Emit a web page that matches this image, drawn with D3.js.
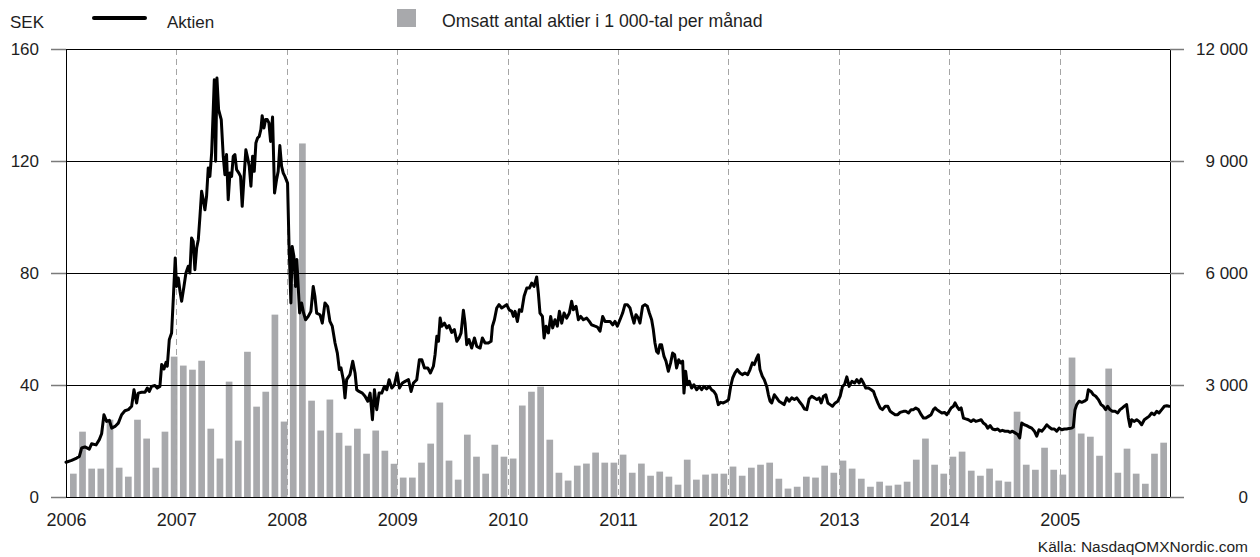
<!DOCTYPE html>
<html>
<head>
<meta charset="utf-8">
<script src="https://cdn.jsdelivr.net/npm/d3@7"></script>
<style>
  html, body { margin: 0; padding: 0; background: #fff; }
  svg { display: block; font-family: "Liberation Sans", Arial, sans-serif; }
</style>
</head>
<body>
<svg id="chart" width="1260" height="557"></svg>
<script>
// Year labels on the time axis (as printed in the annual report)
const yearLabels = ["2006", "2007", "2008", "2009", "2010", "2011", "2012", "2013", "2014", "2005"];
const priceTicks = [0, 40, 80, 120, 160];
const volumeTicks = [0, 3000, 6000, 9000, 12000];

// Traded shares per month, thousands, Jan 2006 – Dec 2015
const volumeK = [
  625, 1750, 760, 760, 2070, 785, 545, 2070, 1565, 785, 1750, 3760,
  3520, 3410, 3650, 1830, 1030, 3090, 1510, 3890, 2420, 2820, 4885, 2020,
  5700, 9470, 2580, 1780, 2610, 1720, 1375, 1830, 1160, 1780, 1240, 890,
  520, 520, 920, 1430, 2530, 975, 465, 1670, 1080, 625, 1400, 1080,
  1030, 2450, 2820, 2955, 1535, 650, 440, 840, 895, 1190, 920, 920,
  1135, 650, 895, 570, 680, 545, 330, 1000, 465, 600, 625, 625,
  815, 570, 785, 865, 920, 490, 225, 275, 545, 520, 840, 650,
  975, 760, 490, 275, 410, 305, 330, 410, 1000, 1565, 865, 625,
  1080, 1215, 705, 570, 760, 440, 410, 2285, 865, 730, 1320, 730,
  600, 3735, 1700, 1615, 1105, 3440, 650, 1295, 625, 355, 1160, 1455
];

// Share price, SEK: [decimal year, close]
const price = [
  [2006.000, 12.4], [2006.051, 13.1], [2006.097, 13.9], [2006.121, 14.5], [2006.142, 17.5],
  [2006.172, 17.9], [2006.211, 17.1], [2006.232, 19.0], [2006.272, 18.6], [2006.302, 20.5],
  [2006.323, 22.6], [2006.344, 29.4], [2006.368, 27.0], [2006.393, 27.4], [2006.414, 24.6],
  [2006.444, 25.2], [2006.474, 26.4], [2006.504, 29.4], [2006.534, 30.8], [2006.565, 31.2],
  [2006.595, 32.4], [2006.616, 38.3], [2006.640, 33.6], [2006.655, 37.1], [2006.685, 37.4],
  [2006.716, 37.4], [2006.737, 38.9], [2006.755, 37.7], [2006.776, 39.5], [2006.806, 39.8],
  [2006.827, 38.9], [2006.851, 39.5], [2006.867, 47.3], [2006.888, 45.7], [2006.906, 48.1],
  [2006.918, 46.7], [2006.936, 56.2], [2006.957, 58.6], [2006.972, 70.5], [2006.990, 85.4],
  [2007.002, 75.2], [2007.018, 78.2], [2007.033, 73.5], [2007.048, 69.9], [2007.069, 75.2],
  [2007.087, 80.0], [2007.108, 82.4], [2007.123, 80.0], [2007.138, 92.5], [2007.153, 91.3],
  [2007.168, 81.2], [2007.184, 88.9], [2007.199, 91.9], [2007.214, 100.2], [2007.229, 109.2],
  [2007.244, 106.2], [2007.259, 102.6], [2007.274, 107.4], [2007.289, 117.5], [2007.304, 114.5],
  [2007.320, 122.9], [2007.335, 138.9], [2007.344, 149.0], [2007.356, 119.9], [2007.368, 149.6],
  [2007.383, 138.3], [2007.407, 134.8], [2007.425, 121.7], [2007.440, 115.1], [2007.455, 122.3],
  [2007.470, 106.2], [2007.486, 115.7], [2007.501, 114.5], [2007.516, 121.7], [2007.531, 122.3],
  [2007.546, 116.9], [2007.567, 115.7], [2007.582, 114.5], [2007.597, 103.8], [2007.612, 113.3],
  [2007.630, 124.0], [2007.646, 121.1], [2007.661, 118.1], [2007.676, 111.0], [2007.691, 121.7],
  [2007.706, 116.3], [2007.721, 126.4], [2007.736, 128.2], [2007.751, 128.8], [2007.766, 131.2],
  [2007.778, 136.2], [2007.794, 131.8], [2007.809, 134.8], [2007.824, 134.8], [2007.839, 133.6],
  [2007.854, 127.0], [2007.872, 135.7], [2007.890, 108.6], [2007.908, 113.3], [2007.923, 116.3],
  [2007.938, 125.5], [2007.954, 118.1], [2007.969, 115.7], [2007.984, 114.5], [2008.008, 112.1],
  [2008.020, 91.9], [2008.038, 69.3], [2008.050, 89.5], [2008.065, 86.0], [2008.080, 75.2],
  [2008.092, 84.8], [2008.104, 75.2], [2008.117, 65.7], [2008.135, 69.3], [2008.153, 65.7],
  [2008.171, 63.3], [2008.195, 64.5], [2008.219, 66.3], [2008.240, 75.2], [2008.255, 71.7],
  [2008.271, 65.7], [2008.301, 65.1], [2008.322, 62.1], [2008.346, 69.3], [2008.370, 68.1],
  [2008.391, 62.7], [2008.412, 61.0], [2008.437, 55.0], [2008.458, 51.4], [2008.476, 45.5],
  [2008.491, 46.1], [2008.512, 41.9], [2008.527, 35.4], [2008.542, 41.9], [2008.572, 43.7],
  [2008.597, 48.5], [2008.618, 44.3], [2008.633, 38.3], [2008.654, 37.7], [2008.684, 37.1],
  [2008.708, 36.0], [2008.733, 34.2], [2008.754, 37.1], [2008.775, 27.6], [2008.793, 38.3],
  [2008.814, 31.2], [2008.835, 37.1], [2008.859, 37.1], [2008.883, 39.5], [2008.905, 38.3],
  [2008.926, 41.9], [2008.950, 38.9], [2008.974, 40.1], [2008.998, 44.3], [2009.019, 38.9],
  [2009.046, 40.7], [2009.071, 41.3], [2009.101, 41.9], [2009.125, 37.7], [2009.146, 40.7],
  [2009.176, 41.9], [2009.200, 49.0], [2009.222, 49.0], [2009.246, 46.1], [2009.276, 46.1],
  [2009.300, 44.3], [2009.327, 46.7], [2009.342, 50.8], [2009.358, 57.4], [2009.373, 55.6],
  [2009.388, 63.9], [2009.403, 61.0], [2009.427, 62.1], [2009.448, 60.4], [2009.469, 61.2],
  [2009.493, 58.8], [2009.517, 59.8], [2009.539, 55.6], [2009.560, 56.8], [2009.578, 58.6],
  [2009.599, 66.7], [2009.614, 62.1], [2009.629, 54.4], [2009.650, 56.2], [2009.674, 53.2],
  [2009.699, 56.8], [2009.720, 53.8], [2009.750, 53.2], [2009.771, 56.8], [2009.795, 55.0],
  [2009.825, 55.0], [2009.850, 55.6], [2009.862, 61.0], [2009.880, 63.3], [2009.901, 67.5],
  [2009.922, 68.7], [2009.946, 67.5], [2009.970, 68.1], [2009.991, 68.7], [2010.013, 66.9],
  [2010.037, 66.3], [2010.052, 64.5], [2010.067, 66.3], [2010.088, 62.7], [2010.106, 66.9],
  [2010.127, 66.3], [2010.149, 71.7], [2010.173, 74.6], [2010.197, 74.6], [2010.218, 76.4],
  [2010.239, 75.2], [2010.263, 78.6], [2010.278, 72.9], [2010.293, 65.7], [2010.315, 64.5],
  [2010.330, 56.8], [2010.348, 61.0], [2010.369, 58.6], [2010.390, 64.5], [2010.408, 60.4],
  [2010.429, 63.3], [2010.450, 61.0], [2010.469, 66.3], [2010.490, 62.1], [2010.511, 65.7],
  [2010.535, 63.9], [2010.559, 65.7], [2010.580, 69.9], [2010.595, 66.9], [2010.620, 68.1],
  [2010.641, 63.3], [2010.662, 64.5], [2010.686, 63.3], [2010.716, 63.9], [2010.740, 62.7],
  [2010.761, 61.5], [2010.792, 61.0], [2010.813, 60.7], [2010.837, 59.2], [2010.861, 64.5],
  [2010.882, 62.7], [2010.903, 62.7], [2010.928, 62.7], [2010.952, 61.5], [2010.973, 62.7],
  [2010.994, 61.0], [2011.018, 63.3], [2011.042, 65.7], [2011.063, 68.7], [2011.085, 68.7],
  [2011.109, 67.5], [2011.124, 65.1], [2011.145, 62.1], [2011.163, 65.1], [2011.184, 63.9],
  [2011.199, 62.1], [2011.223, 68.1], [2011.245, 68.7], [2011.266, 68.1], [2011.284, 65.7],
  [2011.305, 63.3], [2011.320, 59.8], [2011.335, 55.0], [2011.350, 52.0], [2011.365, 51.4],
  [2011.380, 54.4], [2011.395, 54.4], [2011.417, 50.2], [2011.435, 48.5], [2011.456, 44.9],
  [2011.477, 47.9], [2011.495, 51.4], [2011.513, 50.8], [2011.531, 46.1], [2011.550, 49.0],
  [2011.568, 47.9], [2011.586, 48.5], [2011.598, 37.1], [2011.613, 44.9], [2011.628, 40.1],
  [2011.646, 41.3], [2011.667, 38.9], [2011.688, 40.1], [2011.713, 38.3], [2011.737, 39.5],
  [2011.758, 38.3], [2011.779, 39.5], [2011.803, 38.6], [2011.827, 39.5], [2011.848, 38.3],
  [2011.869, 37.7], [2011.888, 36.5], [2011.909, 33.0], [2011.930, 33.8], [2011.954, 33.6],
  [2011.984, 34.2], [2012.002, 34.8], [2012.021, 39.5], [2012.039, 42.5], [2012.060, 44.3],
  [2012.081, 45.5], [2012.105, 44.3], [2012.126, 43.7], [2012.150, 44.3], [2012.175, 43.7],
  [2012.196, 45.5], [2012.217, 47.9], [2012.235, 47.3], [2012.256, 49.6], [2012.271, 50.8],
  [2012.286, 45.5], [2012.307, 43.1], [2012.325, 41.9], [2012.347, 39.5], [2012.362, 36.5],
  [2012.377, 34.2], [2012.392, 33.6], [2012.416, 36.5], [2012.437, 35.4], [2012.458, 34.2],
  [2012.483, 33.6], [2012.504, 33.0], [2012.528, 35.4], [2012.549, 34.2], [2012.573, 35.4],
  [2012.597, 34.8], [2012.618, 35.4], [2012.640, 34.2], [2012.664, 33.0], [2012.688, 31.4],
  [2012.709, 31.2], [2012.730, 35.0], [2012.754, 36.0], [2012.778, 35.4], [2012.800, 34.8],
  [2012.821, 35.4], [2012.839, 33.6], [2012.860, 36.0], [2012.881, 36.5], [2012.899, 33.6],
  [2012.920, 33.0], [2012.941, 32.4], [2012.966, 33.6], [2012.990, 34.2], [2013.011, 36.0],
  [2013.032, 39.5], [2013.050, 40.1], [2013.071, 42.9], [2013.092, 39.5], [2013.117, 41.3],
  [2013.141, 40.7], [2013.162, 41.9], [2013.183, 40.7], [2013.201, 42.1], [2013.222, 40.7],
  [2013.243, 38.9], [2013.267, 38.9], [2013.292, 38.3], [2013.313, 37.7], [2013.328, 36.0],
  [2013.352, 33.6], [2013.373, 31.8], [2013.394, 31.2], [2013.419, 32.4], [2013.443, 32.4],
  [2013.464, 30.6], [2013.485, 30.0], [2013.509, 29.4], [2013.533, 29.4], [2013.554, 30.2],
  [2013.585, 30.6], [2013.606, 30.6], [2013.630, 30.0], [2013.654, 31.2], [2013.675, 31.2],
  [2013.696, 31.8], [2013.720, 31.2], [2013.745, 29.4], [2013.766, 28.2], [2013.787, 28.2],
  [2013.811, 28.8], [2013.835, 29.4], [2013.856, 31.2], [2013.871, 31.8], [2013.887, 31.2],
  [2013.908, 30.6], [2013.932, 30.0], [2013.956, 30.2], [2013.977, 29.4], [2013.998, 30.6],
  [2014.016, 31.8], [2014.037, 32.4], [2014.052, 33.6], [2014.068, 32.4], [2014.089, 31.2],
  [2014.107, 31.8], [2014.128, 28.2], [2014.149, 27.9], [2014.173, 27.6], [2014.197, 27.0],
  [2014.219, 27.6], [2014.240, 27.0], [2014.264, 27.3], [2014.288, 27.6], [2014.309, 26.4],
  [2014.330, 25.8], [2014.348, 24.6], [2014.370, 25.5], [2014.391, 24.3], [2014.415, 24.0],
  [2014.439, 24.3], [2014.460, 23.5], [2014.481, 23.8], [2014.505, 23.5], [2014.530, 23.5],
  [2014.551, 23.1], [2014.572, 23.5], [2014.596, 22.9], [2014.620, 22.3], [2014.638, 21.1],
  [2014.656, 26.4], [2014.680, 25.8], [2014.702, 25.5], [2014.723, 25.0], [2014.747, 24.6],
  [2014.771, 23.5], [2014.792, 21.7], [2014.813, 24.0], [2014.838, 23.5], [2014.862, 24.6],
  [2014.883, 25.8], [2014.904, 25.0], [2014.928, 24.3], [2014.952, 24.3], [2014.973, 23.5],
  [2014.995, 24.6], [2015.019, 24.0], [2015.043, 24.3], [2015.064, 24.3], [2015.085, 24.5],
  [2015.109, 24.6], [2015.124, 25.0], [2015.139, 31.2], [2015.155, 33.0], [2015.176, 34.2],
  [2015.200, 33.8], [2015.224, 34.2], [2015.245, 34.8], [2015.260, 38.3], [2015.284, 37.7],
  [2015.306, 36.5], [2015.327, 36.0], [2015.351, 34.8], [2015.375, 33.0], [2015.396, 32.4],
  [2015.417, 31.2], [2015.435, 32.4], [2015.456, 31.2], [2015.478, 30.6], [2015.502, 30.6],
  [2015.526, 30.0], [2015.547, 31.2], [2015.568, 31.8], [2015.592, 32.6], [2015.607, 33.0],
  [2015.623, 28.2], [2015.638, 25.2], [2015.653, 27.6], [2015.677, 27.0], [2015.698, 27.6],
  [2015.719, 27.0], [2015.743, 25.8], [2015.767, 27.6], [2015.789, 28.2], [2015.810, 28.8],
  [2015.834, 30.0], [2015.858, 29.4], [2015.879, 30.6], [2015.900, 30.0], [2015.925, 31.2],
  [2015.949, 32.4], [2015.970, 32.6], [2015.991, 32.4]
];

// ---- layout ----
const plot = { left: 66, right: 1170, top: 49, bottom: 497 };
const textColor = "#1e1e1e";
const barColor = "#a8a9ac";
const fontSize = 17;

const svg = d3.select("#chart");

const fromDecimalYear = v => {
  const y0 = Math.floor(v);
  const a = new Date(y0, 0, 1), b = new Date(y0 + 1, 0, 1);
  return new Date(+a + (v - y0) * (b - a));
};

const x = d3.scaleTime()
  .domain([new Date(2006, 0, 1), new Date(2016, 0, 1)])
  .range([plot.left, plot.right]);

const yPrice = d3.scaleLinear().domain([0, 160]).range([plot.bottom, plot.top]);
const yVolume = d3.scaleLinear().domain([0, 12000]).range([plot.bottom, plot.top]);

const months = d3.timeMonth.range(new Date(2006, 0, 1), new Date(2016, 0, 1));
const xMonth = d3.scaleBand()
  .domain(months.map((d, i) => i))
  .range([70, 1167])
  .paddingInner(0.27)
  .paddingOuter(0);

const years = d3.timeYear.range(new Date(2006, 0, 1), new Date(2016, 0, 1));

// ---- volume bars ----
svg.append("g")
  .selectAll("rect")
  .data(volumeK)
  .join("rect")
  .attr("x", (d, i) => xMonth(i))
  .attr("width", xMonth.bandwidth())
  .attr("y", d => yVolume(d))
  .attr("height", d => yVolume(0) - yVolume(d))
  .attr("fill", barColor);

// ---- dashed year separators ----
svg.append("g")
  .selectAll("line")
  .data(years.slice(1))
  .join("line")
  .attr("x1", d => Math.round(x(d)) + 0.5).attr("x2", d => Math.round(x(d)) + 0.5)
  .attr("y1", plot.top).attr("y2", plot.bottom)
  .attr("stroke", "#a5a5a5")
  .attr("stroke-width", 1)
  .attr("stroke-dasharray", "6,4");

// ---- horizontal grid + frame ----
svg.append("g")
  .attr("shape-rendering", "crispEdges")
  .selectAll("line")
  .data(priceTicks)
  .join("line")
  .attr("x1", plot.left).attr("x2", plot.right)
  .attr("y1", d => yPrice(d)).attr("y2", d => yPrice(d))
  .attr("stroke", "#000")
  .attr("stroke-width", 1);

[plot.left, plot.right].forEach(px => {
  svg.append("line")
    .attr("shape-rendering", "crispEdges")
    .attr("x1", px).attr("x2", px)
    .attr("y1", yPrice(160)).attr("y2", yPrice(0))
    .attr("stroke", "#000")
    .attr("stroke-width", 1);
});

// ---- left axis (SEK) ----
const axisL = svg.append("g")
  .attr("transform", `translate(${plot.left},0)`)
  .call(d3.axisLeft(yPrice).tickValues(priceTicks).tickSize(15).tickPadding(12));
axisL.select(".domain").remove();
axisL.selectAll(".tick line").attr("stroke", "#7a7a7a").attr("stroke-width", 1.5);
axisL.selectAll(".tick text")
  .attr("fill", textColor)
  .style("font-size", fontSize + "px")
  .style("font-family", "Liberation Sans, Arial, sans-serif");

// ---- right axis (volume) ----
const fmtVol = v => d3.format(",")(v).replace(/,/g, "\u00a0");
const axisR = svg.append("g")
  .attr("transform", `translate(${plot.right},0)`)
  .call(d3.axisRight(yVolume).tickValues(volumeTicks).tickSize(14).tickFormat(fmtVol));
axisR.select(".domain").remove();
axisR.selectAll(".tick line").attr("stroke", "#7a7a7a").attr("stroke-width", 1.5);
axisR.selectAll(".tick text")
  .attr("x", 1248 - plot.right)
  .attr("text-anchor", "end")
  .attr("fill", textColor)
  .style("font-size", fontSize + "px")
  .style("font-family", "Liberation Sans, Arial, sans-serif");

// ---- bottom axis (years) ----
const axisB = svg.append("g")
  .attr("transform", `translate(0,${plot.bottom})`)
  .call(d3.axisBottom(x).tickValues(years).tickSize(0).tickPadding(16)
    .tickFormat((d, i) => yearLabels[i]));
axisB.select(".domain").remove();
axisB.selectAll(".tick text")
  .attr("fill", textColor)
  .style("font-size", "18px")
  .style("font-family", "Liberation Sans, Arial, sans-serif");

// ---- share price line ----
const line = d3.line()
  .x(d => x(fromDecimalYear(d[0])))
  .y(d => yPrice(d[1]))
  .curve(d3.curveLinear);

svg.append("path")
  .datum(price)
  .attr("d", line)
  .attr("fill", "none")
  .attr("stroke", "#000")
  .attr("stroke-width", 3)
  .attr("stroke-linejoin", "round")
  .attr("stroke-linecap", "round");

// ---- header: unit + legend ----
const header = svg.append("g")
  .attr("fill", textColor)
  .style("font-size", fontSize + "px");

header.append("text").attr("x", 10).attr("y", 28).text("SEK");

header.append("line")
  .attr("x1", 94).attr("x2", 145).attr("y1", 18).attr("y2", 18)
  .attr("stroke", "#000").attr("stroke-width", 4).attr("stroke-linecap", "round");
header.append("text").attr("x", 167).attr("y", 28).text("Aktien");

header.append("rect")
  .attr("x", 397).attr("y", 9).attr("width", 19).attr("height", 18)
  .attr("fill", barColor);
header.append("text").attr("x", 442).attr("y", 27)
  .style("font-size", "17.7px")
  .text("Omsatt antal aktier i 1\u00a0000-tal per månad");

// ---- source ----
svg.append("text")
  .attr("x", 1248).attr("y", 552)
  .attr("text-anchor", "end")
  .attr("fill", textColor)
  .style("font-size", "15.5px")
  .text("Källa: NasdaqOMXNordic.com");
</script>
</body>
</html>
